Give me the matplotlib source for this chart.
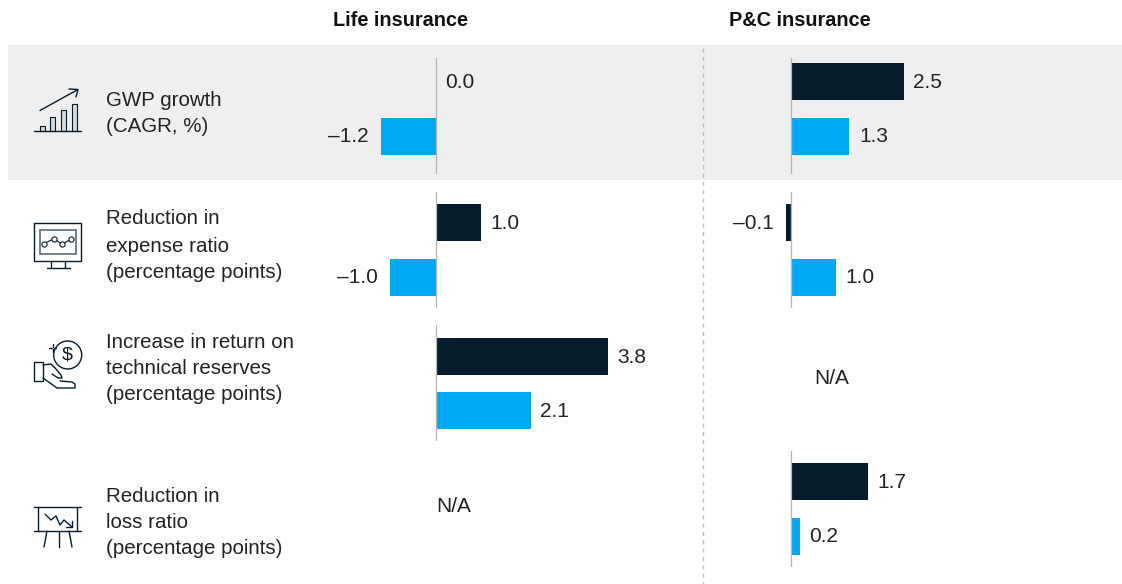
import matplotlib
matplotlib.use('Agg')
import matplotlib.pyplot as plt
from matplotlib.patches import Rectangle, Circle

plt.rcParams['font.family'] = ['Liberation Sans', 'DejaVu Sans']

W, H = 1122, 584
DARK = '#051c2c'
BLUE = '#00a9f4'
GREY = '#efefef'
TXT = '#222222'

columns = ['Life insurance', 'P&C insurance']
row_labels = [
    ['GWP growth', '(CAGR, %)'],
    ['Reduction in', 'expense ratio', '(percentage points)'],
    ['Increase in return on', 'technical reserves', '(percentage points)'],
    ['Reduction in', 'loss ratio', '(percentage points)'],
]
# None = N/A
life_dark = [0.0, 1.0, 3.8, None]
life_blue = [-1.2, -1.0, 2.1, None]
pc_dark = [2.5, -0.1, None, 1.7]
pc_blue = [1.3, 1.0, None, 0.2]

# layout, in px
row_top = [58, 192, 325, 451]
row_bar = [81.5, 222.5, 356.5, 481.5]  # centre of the first bar
row_h = 116
pitch = 54.5
px_per_unit = 45.3
col_zero = [435.5, 790.5]
col_left = [300, 710]
col_width = 390
label_y = [[100, 127], [219, 246, 273], [342, 368, 395], [496, 523, 549]]
na_pos = [(454, 506), (832, 378)]


def fmt(v):
    s = f'{abs(v):.1f}'
    return '\u2013' + s if v < 0 else s


def draw_cell(col, row, dark, blue):
    left = col_left[col]
    top = row_top[row]
    ax = fig.add_axes([left / W, 1 - (top + row_h) / H, col_width / W, row_h / H])
    ax.patch.set_alpha(0)
    x0 = (left - col_zero[col]) / px_per_unit
    ax.set_xlim(x0, x0 + col_width / px_per_unit)
    y0 = -(row_bar[row] - top) / pitch
    ax.set_ylim(y0 + row_h / pitch, y0)
    ax.barh([0, 1], [dark, blue], height=37 / pitch, color=[DARK, BLUE], zorder=2)
    ax.axvline(0, color='#b5b5b5', lw=0.9, zorder=3)
    ax.axis('off')
    for i, v in enumerate([dark, blue]):
        off = -9 if v < 0 else 7
        ax.annotate(fmt(v), (v, i), xytext=(off, -0.5), textcoords='offset points',
                    ha='right' if v < 0 else 'left', va='center', fontsize=15, color=TXT)


fig = plt.figure(figsize=(W / 100, H / 100), dpi=100)

# pixel overlay for band, divider, text and icons
bg = fig.add_axes([0, 0, 1, 1])
bg.set_xlim(0, W)
bg.set_ylim(H, 0)
bg.axis('off')
bg.add_patch(Rectangle((8, 45), 1114, 135, color=GREY, lw=0))
bg.plot([703, 703], [48, 584], color='#bdbdbd', lw=1, dashes=(3, 3))

bg.text(400.5, 21, columns[0], ha='center', va='center', fontsize=14.3, fontweight='bold', color='#111111')
bg.text(799.5, 21, columns[1], ha='center', va='center', fontsize=14.3, fontweight='bold', color='#111111')

for lines, ys in zip(row_labels, label_y):
    for line, y in zip(lines, ys):
        bg.text(106, y, line, ha='left', va='center', fontsize=14.8, color=TXT)

for r in range(4):
    if life_dark[r] is not None:
        draw_cell(0, r, life_dark[r], life_blue[r])
    if pc_dark[r] is not None:
        draw_cell(1, r, pc_dark[r], pc_blue[r])

bg.text(na_pos[0][0], na_pos[0][1], 'N/A', ha='center', va='center', fontsize=15, color=TXT)
bg.text(na_pos[1][0], na_pos[1][1], 'N/A', ha='center', va='center', fontsize=15, color=TXT)

# icons
ic = dict(color=DARK, lw=1, solid_capstyle='round', solid_joinstyle='round')

# growth chart
bg.plot([34, 81], [131, 131], **ic)
for x, t in [(40, 125.5), (50, 117), (61, 110), (72, 103.5)]:
    bg.add_patch(Rectangle((x, t), 5.5, 131 - t, fc='#d4d8da', ec=DARK, lw=0.8))
bg.plot([40, 77], [110.5, 90], **ic)
bg.plot([69, 78, 76], [89, 89.5, 97], **ic)

# monitor
bg.add_patch(Rectangle((34, 223), 47, 38, fill=False, ec=DARK, lw=1))
bg.add_patch(Rectangle((40, 230), 36, 23.5, fill=False, ec='#5c6b75', lw=1.2))
pts_x = [44, 54, 62, 71]
pts_y = [243.7, 238.7, 244.3, 239]
bg.plot(pts_x, pts_y, color=DARK, lw=0.8)
bg.scatter(pts_x, pts_y, s=14, fc='white', ec=DARK, lw=0.8, zorder=3)
bg.plot([51, 51], [261, 267], **ic)
bg.plot([65, 65], [261, 267], **ic)
bg.plot([47, 70], [267.5, 267.5], **ic)

# hand and coin
bg.add_patch(Circle((67.7, 355), 14, fill=False, ec=DARK, lw=1))
bg.text(67.7, 355, '$', ha='center', va='center', fontsize=14, color=DARK)
bg.plot([53, 53], [344, 346.5], **ic)
bg.plot([53, 53], [349, 351.5], **ic)
bg.plot([49.5, 52], [347.7, 347.7], **ic)
bg.plot([54, 56.5], [347.7, 347.7], **ic)
bg.add_patch(Rectangle((34, 361.5), 9, 19, fill=False, ec=DARK, lw=1))
bg.plot([43, 51, 56, 61, 62, 58, 52], [365, 364, 369, 375, 378, 378, 374], **ic)
bg.plot([43, 57, 75, 75, 72, 60], [378, 388, 388, 384, 382, 381], **ic)

# presentation board
bg.plot([34, 81], [507, 507], **ic)
bg.plot([34, 81], [530.5, 530.5], **ic)
bg.plot([38.5, 38.5], [507, 530.5], **ic)
bg.plot([77.5, 77.5], [507, 530.5], **ic)
bg.plot([45, 51, 56, 60, 64, 72], [514, 520, 516, 525, 520, 527], **ic)
bg.plot([66, 72.5, 72.5], [527, 527, 521], **ic)
bg.plot([47, 44], [531, 547], **ic)
bg.plot([59, 59], [531, 547], **ic)
bg.plot([69, 72], [531, 547], **ic)

fig.savefig('out.png', dpi=100)
